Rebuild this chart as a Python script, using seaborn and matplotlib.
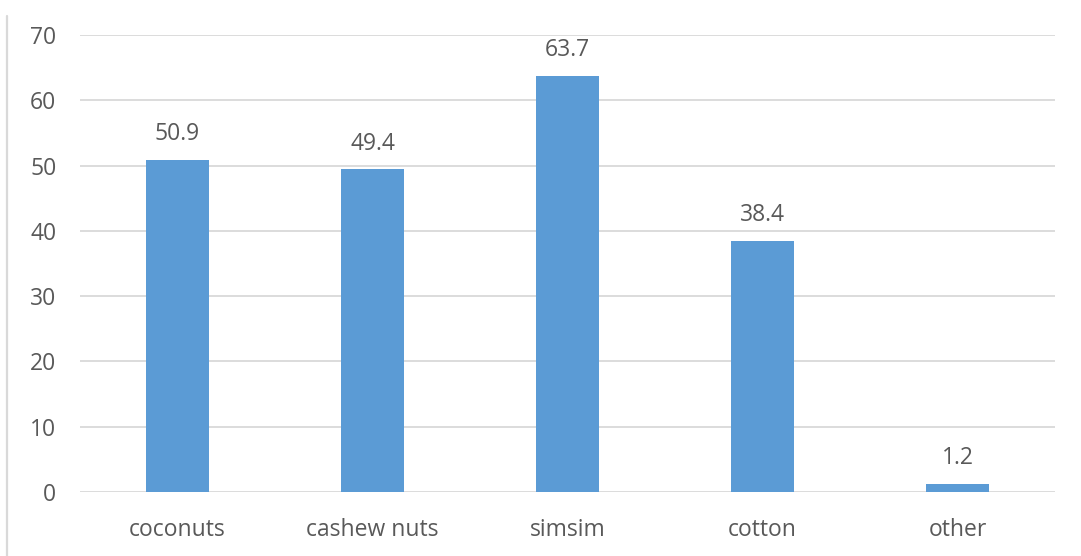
import matplotlib
matplotlib.use("Agg")
import matplotlib.pyplot as plt
from matplotlib.lines import Line2D
import seaborn as sns
import pandas as pd

crops = ["coconuts", "cashew nuts", "simsim", "cotton", "other"]
values = [50.9, 49.4, 63.7, 38.4, 1.2]
yticks = [0, 10, 20, 30, 40, 50, 60, 70]

sns.set_theme(style="white")
plt.rcParams["font.family"] = ["Open Sans", "DejaVu Sans"]

text_color = "#595959"
grid_color = "#D9D9D9"
bar_color = "#5B9BD5"

df = pd.DataFrame({"crop": crops, "value": values})

fig = plt.figure(figsize=(10.81, 5.56), dpi=100)
ax = fig.add_axes([80 / 1081, 1 - 492 / 556, 975 / 1081, 457 / 556])

sns.barplot(data=df, x="crop", y="value", color=bar_color, width=0.32,
            saturation=1, linewidth=0, ax=ax, zorder=3)

ax.set_xlim(-0.5, len(crops) - 0.5)
ax.set_ylim(0, 70)
ax.set_yticks(yticks)
ax.set_yticklabels([str(t) for t in yticks])
ax.yaxis.grid(True, color=grid_color, linewidth=1.3, zorder=0)
ax.set_axisbelow(True)
for s in ax.spines.values():
    s.set_visible(False)
ax.set_xlabel("")
ax.set_ylabel("")
ax.tick_params(axis="both", length=0, labelsize=16.5, labelcolor=text_color)
ax.tick_params(axis="y", pad=17)
ax.tick_params(axis="x", pad=19)

for i, v in enumerate(values):
    ax.annotate(f"{v}", (i, v), xytext=(0, 10), textcoords="offset points",
                ha="center", va="bottom", fontsize=16.5, color=text_color)

fig.add_artist(Line2D([7.5 / 1081, 7.5 / 1081], [0, 1 - 16 / 556],
                      transform=fig.transFigure, color=grid_color, linewidth=1.6))

fig.savefig("out.png", dpi=100)
